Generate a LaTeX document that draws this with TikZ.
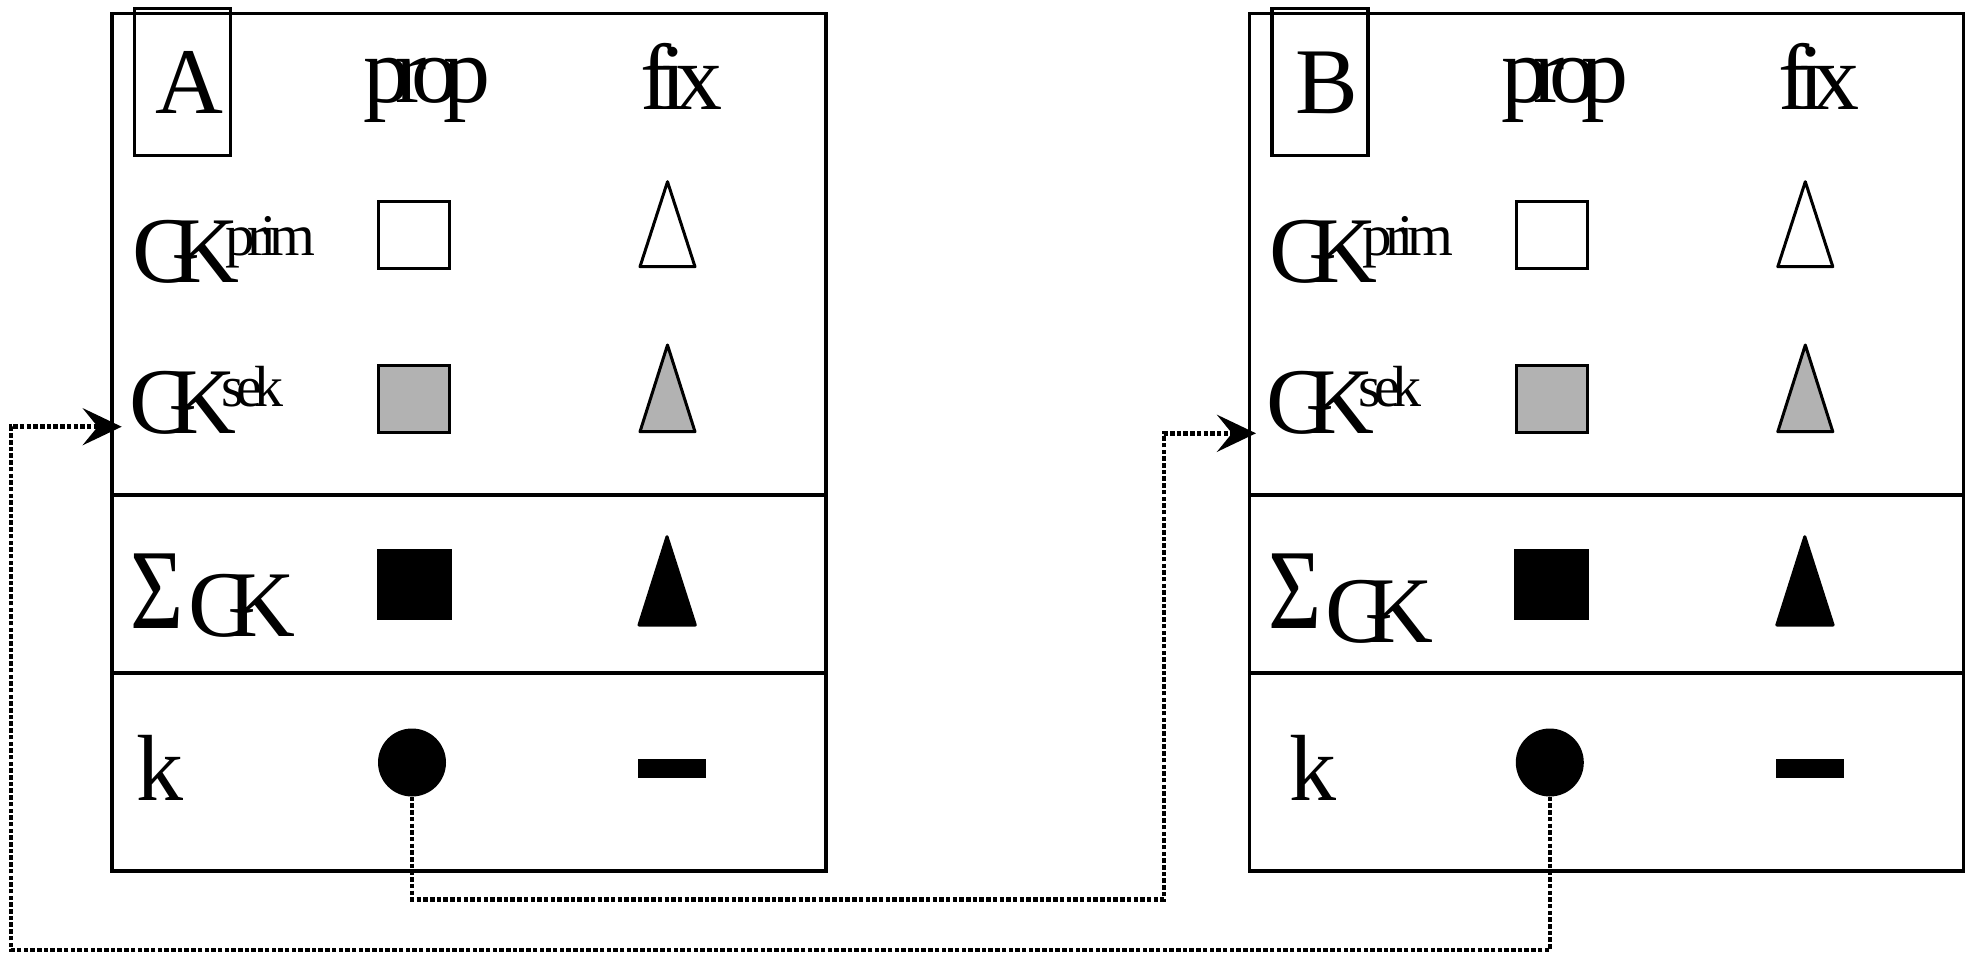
\documentclass[tikz,border=0pt]{standalone}
\usepackage{fontspec}
\setmainfont{Liberation Serif}
\usetikzlibrary{arrows.meta}
\definecolor{shadegray}{RGB}{178,178,178}
\newcommand\bigtxt{\fontsize{94}{100}\selectfont}
\newcommand\suptxt{\fontsize{59}{62}\selectfont}
\newcommand\sigtxt{\fontsize{114}{120}\selectfont}
\tikzset{
  frame/.style={draw, line width=3.5pt, inner sep=0pt},
  divider/.style={line width=4pt},
  lblbox/.style={draw, line width=3.5pt, inner sep=0pt},
  txt/.style={inner sep=0pt, outer sep=0pt, font=\bigtxt},
  suptext/.style={inner sep=0pt, outer sep=0pt, font=\suptxt},
  sqr/.style={draw, line width=3pt, inner sep=0pt, minimum width=71pt, minimum height=67pt},
  tri/.style={draw, line width=3pt, line join=round},
  dot/.style={circle, fill=black, inner sep=0pt, minimum size=68pt},
  conn/.style={line width=4.5pt, dash pattern=on 4.5pt off 2.2pt,
    -{Stealth[length=39pt, width=37pt, inset=15pt]}},
}
\newcommand\mypanel[5]{%
\begin{scope}[xshift=#3pt]
  \node[frame, anchor=north west, minimum width=714pt, minimum height=857.6pt] (#1box) at (110,11.7) {};
  \draw[divider] (110,495) -- (824,495);
  \draw[divider] (110,672.7) -- (824,672.7);
  \node[lblbox, anchor=north west, minimum width=96pt, minimum height=147pt] (#1lbl) at (132.5,7) {};
  \node[txt, anchor=base] (#1title) at (189,114) {#2};
  \node[txt, anchor=base] (#1prop) at (427,103) {p\kern-15pt r\kern-15pt o\kern-15pt p};
  \node[txt, anchor=base] (#1fix) at (681.5,110) {f\kern-11.7pt i\kern-11.7pt x};
  % GK prim row
  \node[txt, anchor=base west] (#1gkp) at (132,282) {G\kern-28pt K};
  \node[suptext, anchor=base west] (#1prim) at (225,255) {p\kern-7pt r\kern-7pt i\kern-7pt m};
  \node[sqr, fill=white] (#1sqp) at (413.8,235) {};
  \draw[tri, fill=white] (667.5,181.7) -- (695,266.7) -- (640,266.7) -- cycle;
  % GK sek row
  \node[txt, anchor=base west] (#1gks) at (129,433) {G\kern-28pt K};
  \node[suptext, font=\fontsize{58}{60}\selectfont, anchor=base west] (#1sek) at (221,406.7) {s\kern-7.4pt e\kern-7.4pt k};
  \node[sqr, fill=shadegray] (#1sqs) at (413.8,399.3) {};
  \draw[tri, fill=shadegray] (667.5,345) -- (695,431.7) -- (640,431.7) -- cycle;
  % sum row
  \node[inner sep=0pt, font=\sigtxt, anchor=base west] (#1sig) at (130,628) {\scalebox{0.8}[1]{Σ}};
  \node[txt, anchor=base west] (#1gksum) at (188,#5) {G\kern-28pt K};
  \node[sqr, fill=black, minimum width=72pt, minimum height=68pt] (#1sqsum) at (414,584) {};
  \draw[tri, fill=black] (667,536.7) -- (695.3,625) -- (639,625) -- cycle;
  % k row
  \node[txt, anchor=base west] (#1ktxt) at (#4,800) {k};
  \node[dot] (#1k) at (412,762.5) {};
  \fill (638,759) rectangle (706,777.7);
\end{scope}}
\begin{document}
\begin{tikzpicture}[x=1pt, y=-1pt]
  \useasboundingbox (0,0) rectangle (1968,955);
  \mypanel{A}{A}{0}{136}{636}
  \mypanel{B}{B}{1137.8}{152}{642}
  \coordinate (c1) at (1164,899.3);
  \coordinate (gkB) at (1256,433.3);
  \coordinate (c2) at (11,950);
  \coordinate (gkA) at (121.7,426.7);
  \draw[conn] (Ak.south) |- (c1) |- (gkB);
  \draw[conn] (Bk.south) |- (c2) |- (gkA);
\end{tikzpicture}
\end{document}
